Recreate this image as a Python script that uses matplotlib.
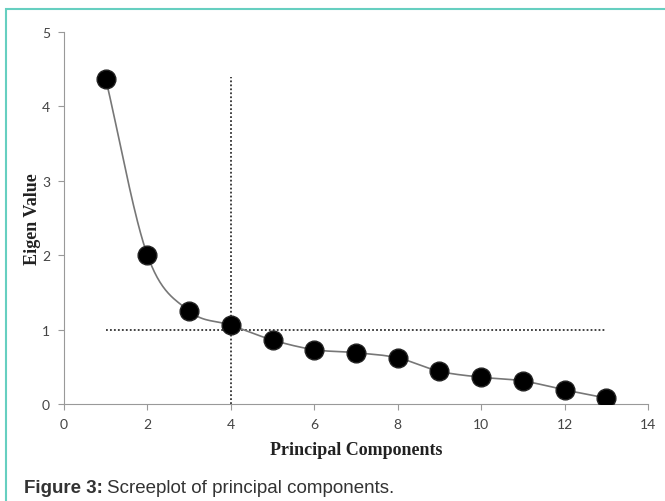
import numpy as np
import matplotlib
matplotlib.use("Agg")
import matplotlib.pyplot as plt
from matplotlib.patches import Rectangle

components = [1, 2, 3, 4, 5, 6, 7, 8, 9, 10, 11, 12, 13]
eigenvalues = [4.37, 2.00, 1.25, 1.06, 0.86, 0.73, 0.69, 0.62, 0.44, 0.36, 0.31, 0.19, 0.08]
x_ticks = [0, 2, 4, 6, 8, 10, 12, 14]
y_ticks = [0, 1, 2, 3, 4, 5]
cutoff_component = 4
cutoff_eigen = 1
vline_top = 4.4


def catmull_rom(xs, ys, n=30):
    xs = np.asarray(xs, float)
    ys = np.asarray(ys, float)
    px = np.concatenate([[2 * xs[0] - xs[1]], xs, [2 * xs[-1] - xs[-2]]])
    py = np.concatenate([[2 * ys[0] - ys[1]], ys, [2 * ys[-1] - ys[-2]]])
    outx, outy = [], []
    for i in range(1, len(px) - 2):
        t = np.linspace(0, 1, n, endpoint=False)
        for arr, out in ((px, outx), (py, outy)):
            p0, p1, p2, p3 = arr[i - 1], arr[i], arr[i + 1], arr[i + 2]
            out.extend(0.5 * ((2 * p1) + (-p0 + p2) * t +
                              (2 * p0 - 5 * p1 + 4 * p2 - p3) * t ** 2 +
                              (-p0 + 3 * p1 - 3 * p2 + p3) * t ** 3))
    outx.append(xs[-1])
    outy.append(ys[-1])
    return np.array(outx), np.array(outy)


fig = plt.figure(figsize=(6.65, 5.02), dpi=100)

# teal frame
fig.patches.append(Rectangle((6 / 665, -0.1), 1.2, (502 - 10) / 502 + 0.1,
                             transform=fig.transFigure, fill=False,
                             edgecolor="#66cfc0", linewidth=1.5))

ax = fig.add_axes([64 / 665, (502 - 405) / 502, (648 - 64) / 665, (405 - 33) / 502])

sx, sy = catmull_rom(components, eigenvalues)
ax.plot(sx, sy, color="#777777", linewidth=1.2, zorder=2)
ax.plot(components, eigenvalues, linestyle="none", marker="o", markersize=13.5,
        markerfacecolor="black", markeredgecolor="#222222", zorder=3)

ax.plot([cutoff_component, cutoff_component], [0, vline_top], color="#333333",
        linestyle=(0, (1, 1.2)), linewidth=1.3, zorder=1)
ax.plot([components[0], components[-1]], [cutoff_eigen, cutoff_eigen], color="#333333",
        linestyle=(0, (1, 1.2)), linewidth=1.3, zorder=1)

ax.set_xlim(0, 14)
ax.set_ylim(0, 5)
ax.set_xticks(x_ticks)
ax.set_yticks(y_ticks)
for s in ("top", "right"):
    ax.spines[s].set_visible(False)
for s in ("left", "bottom"):
    ax.spines[s].set_color("#999999")
    ax.spines[s].set_linewidth(0.8)
ax.tick_params(axis="both", colors="#999999", length=4, width=0.8,
               labelcolor="#444444", labelsize=10)
for lab in ax.get_xticklabels() + ax.get_yticklabels():
    lab.set_family("Lato")
ax.tick_params(axis="x", pad=6)
ax.tick_params(axis="y", pad=6)

ax.set_xlabel("Principal Components", family="Liberation Serif", fontweight="bold",
              fontsize=13, color="#222222", labelpad=8)
ax.set_ylabel("Eigen Value", family="Liberation Serif", fontweight="bold",
              fontsize=13, color="#222222", labelpad=1)

fig.text(24 / 665, 1 - 493 / 502, "Figure 3:", family="Liberation Sans",
         fontweight="bold", fontsize=13.5, color="#333333", va="baseline")
fig.text(107 / 665, 1 - 493 / 502, "Screeplot of principal components.",
         family="Liberation Sans", fontsize=13.5, color="#333333", va="baseline")

fig.savefig("out.png", dpi=100)
